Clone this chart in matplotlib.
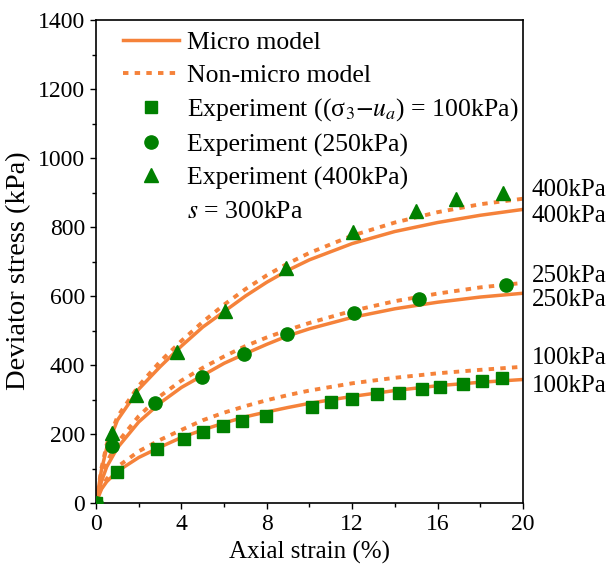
import matplotlib
matplotlib.use('Agg')
import matplotlib.pyplot as plt
from matplotlib.lines import Line2D
from matplotlib.ticker import MultipleLocator

plt.rcParams['font.family'] = ['Liberation Serif', 'DejaVu Serif']
plt.rcParams['mathtext.fontset'] = 'stix'

ORANGE = '#F5823A'
GREEN = '#008000'

# Experimental data (axial strain %, deviator stress kPa)
exp100_e = [0, 0.97, 2.87, 4.14, 5.03, 5.96, 6.86, 7.95, 10.13, 11.0, 12.0,
            13.17, 14.19, 15.25, 16.11, 17.2, 18.1, 19.0]
exp100_s = [0, 91, 158, 187, 207, 224, 238, 253, 279, 292, 301,
            315, 318, 330, 336, 345, 354, 363]
exp250_e = [0, 0.73, 2.76, 4.95, 6.93, 8.93, 12.08, 15.13, 19.2]
exp250_s = [0, 165, 289, 366, 431, 489, 550, 592, 632]
exp400_e = [0, 0.73, 1.86, 3.78, 6.04, 8.88, 12.05, 15.0, 16.86, 19.05]
exp400_s = [0, 202, 313, 439, 557, 680, 786, 847, 880, 899]

# Micro model curves (solid)
micro_e = [0, 0.25, 0.5, 1, 2, 3, 4, 5, 6, 7, 8, 9, 10, 12, 14, 16, 18, 20]
micro100 = [0, 40, 62, 92, 132, 162, 190, 212, 232, 250, 264, 277, 289, 309, 326, 340, 350, 358]
micro250 = [0, 62, 105, 160, 235, 290, 335, 370, 405, 433, 460, 485, 505, 538, 563, 582, 597, 608]
micro400 = [0, 95, 160, 240, 330, 395, 455, 510, 555, 600, 640, 675, 705, 752, 787, 813, 834, 851]

# Non-micro model curves (dotted)
nonmicro_e = [0, 0.25, 0.5, 1, 2, 3, 4, 5, 6, 7, 8, 9, 10, 12, 14, 16, 18, 20]
nonmicro100 = [0, 45, 70, 105, 150, 183, 212, 240, 262, 281, 298, 313, 326, 347, 363, 376, 386, 395]
nonmicro250 = [0, 70, 118, 175, 252, 310, 355, 392, 425, 455, 480, 502, 522, 557, 585, 607, 625, 638]
nonmicro400 = [0, 100, 170, 250, 340, 410, 470, 525, 575, 620, 660, 695, 725, 775, 813, 843, 866, 882]

# Right-side curve labels (y position in kPa)
side_labels = ['400kPa', '400kPa', '250kPa', '250kPa', '100kPa', '100kPa']
side_y = [907, 832, 658, 588, 420, 339]

fig = plt.figure(figsize=(6.08, 5.82), dpi=100)
ax = fig.add_axes([0.158, 0.1357, 0.702, 0.8299])

dot = (0, (1.4, 1.6))
for s in (micro100, micro250, micro400):
    ax.plot(micro_e, s, color=ORANGE, lw=2.5, zorder=2)
for s in (nonmicro100, nonmicro250, nonmicro400):
    ax.plot(nonmicro_e, s, color=ORANGE, lw=2.8, ls=dot, zorder=2)

ax.plot(exp100_e, exp100_s, 's', color=GREEN, ms=8.5, ls='none', zorder=3)
ax.plot(exp250_e, exp250_s, 'o', color=GREEN, ms=9.5, ls='none', zorder=3)
ax.plot(exp400_e, exp400_s, '^', color=GREEN, ms=10.5, ls='none', zorder=3)

ax.set_xlim(0, 20)
ax.set_ylim(0, 1400)
ax.xaxis.set_major_locator(MultipleLocator(4))
ax.xaxis.set_minor_locator(MultipleLocator(2))
ax.yaxis.set_major_locator(MultipleLocator(200))
ax.yaxis.set_minor_locator(MultipleLocator(100))
ax.tick_params(which='both', direction='out', top=False, right=False, labelsize=17)
ax.tick_params(which='major', length=4.5, width=1)
ax.tick_params(which='minor', length=3, width=1)
for sp in ax.spines.values():
    sp.set_linewidth(1.2)

ax.set_xlabel('Axial strain (%)', fontsize=18)
ax.set_ylabel('Deviator stress (kPa)', fontsize=20.5)
ax.yaxis.set_label_coords(-0.152, 0.482)

handles = [
    Line2D([], [], color=ORANGE, lw=2.5),
    Line2D([], [], color=ORANGE, lw=2.8, ls=dot),
    Line2D([], [], color=GREEN, marker='s', ms=8.5, ls='none'),
    Line2D([], [], color=GREEN, marker='o', ms=9.5, ls='none'),
    Line2D([], [], color=GREEN, marker='^', ms=10.5, ls='none'),
    Line2D([], [], ls='none'),
]
labels = ['Micro model', 'Non-micro model',
          r'Experiment ((σ$_3$$-$$\mathit{u_a}$) = 100kPa)',
          'Experiment (250kPa)', 'Experiment (400kPa)', r'$s$ = 300kPa']
ax.legend(handles, labels, loc='upper left', frameon=False, fontsize=18.5,
          handlelength=2.2, handletextpad=0.3, labelspacing=0.38,
          borderaxespad=0, borderpad=0, bbox_to_anchor=(0.062, 0.977))

for lab, y in zip(side_labels, side_y):
    ax.text(20.4, y, lab, fontsize=18, va='center', ha='left', clip_on=False)

fig.savefig('out.png', dpi=100)
